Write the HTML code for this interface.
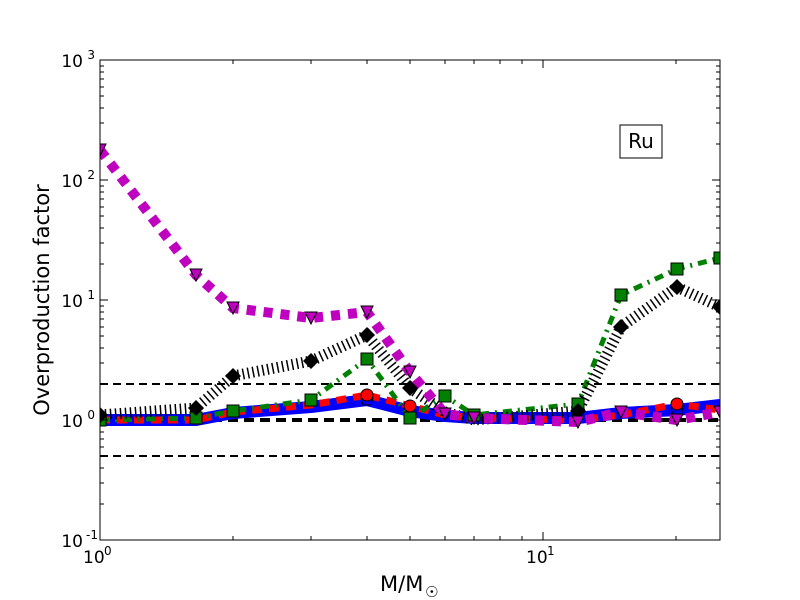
<!DOCTYPE html>
<html><head><meta charset="utf-8"><style>body{margin:0;background:#fff}svg{display:block}text{font-family:"DejaVu Sans","Liberation Sans",sans-serif}</style></head><body>
<svg width="800" height="600" viewBox="0 0 800 600" xmlns="http://www.w3.org/2000/svg">
<rect width="800" height="600" fill="#fff"/>
<defs><clipPath id="c"><rect x="100" y="60" width="620" height="480"/></clipPath></defs>
<g clip-path="url(#c)">
<g stroke="#000" stroke-width="2" stroke-dasharray="8 5" fill="none">
<line x1="100" y1="384" x2="720" y2="384"/><line x1="100" y1="456" x2="720" y2="456"/>
</g>
<line x1="100" y1="420" x2="720" y2="420" stroke="#000" stroke-width="4" stroke-dasharray="10 6"/>
<polyline fill="none" stroke="#0000ff" stroke-width="12" stroke-linejoin="round" points="100,420 196,420 233,413 311,407 367,400 410,411 445,416 474,418 578,418 621,413 677,410 720,405"/>
<polyline fill="none" stroke="#ff0000" stroke-width="7" stroke-dasharray="10 7" points="100,420 196,420 233,412 311,405 367,395 410,406 445,415 474,418 578,420 621,415 677,404 720,410"/>
<polyline fill="none" stroke="#008000" stroke-width="5" stroke-dasharray="9 6 2 6" points="100,420 196,418 233,411 311,400 367,359 410,418 445,396 474,415 578,404 621,295 677,269 720,258"/>
<polyline fill="none" stroke="#000" stroke-width="11" stroke-dasharray="1.5 3.5" points="100,415 196,408 233,376 311,361 367,335 410,388 445,412 474,420 578,411 621,327 677,287 720,307"/>
<polyline fill="none" stroke="#bf00bf" stroke-width="10" stroke-dasharray="9 8" points="100,150 196,275 233,308 311,318 367,312 410,372 445,414 474,418 578,422 621,412 677,420 720,412"/>
<g fill="#0000ff" stroke="#000" stroke-width="1">
<g transform="translate(100,420)"><polygon points="0,-6 6,-2 4,5 -4,5 -6,-2"/></g>
<g transform="translate(367,400)"><polygon points="0,-6 6,-2 4,5 -4,5 -6,-2"/></g>
<g transform="translate(677,410)"><polygon points="0,-6 6,-2 4,5 -4,5 -6,-2"/></g>
</g>
<g fill="#ff0000" stroke="#000" stroke-width="1">
<circle cx="367" cy="395" r="6"/><circle cx="677" cy="404" r="6"/><circle cx="410" cy="406" r="6"/>
</g>
<g fill="#008000" stroke="#000" stroke-width="1">
<rect x="94" y="414" width="12" height="12"/><rect x="190" y="412" width="12" height="12"/><rect x="227" y="405" width="12" height="12"/><rect x="305" y="394" width="12" height="12"/><rect x="361" y="353" width="12" height="12"/><rect x="404" y="412" width="12" height="12"/><rect x="439" y="390" width="12" height="12"/><rect x="468" y="409" width="12" height="12"/><rect x="572" y="398" width="12" height="12"/><rect x="615" y="289" width="12" height="12"/><rect x="671" y="263" width="12" height="12"/><rect x="714" y="252" width="12" height="12"/>
</g>
<g fill="#000">
<polygon points="100,407 108,415 100,423 92,415"/><polygon points="196,400 204,408 196,416 188,408"/><polygon points="233,368 241,376 233,384 225,376"/><polygon points="311,353 319,361 311,369 303,361"/><polygon points="367,327 375,335 367,343 359,335"/><polygon points="410,380 418,388 410,396 402,388"/><polygon points="578,403 586,411 578,419 570,411"/><polygon points="621,319 629,327 621,335 613,327"/><polygon points="677,279 685,287 677,295 669,287"/><polygon points="720,299 728,307 720,315 712,307"/>
</g>
<g fill="#bf00bf" stroke="#000" stroke-width="1">
<polygon points="94,144 106,144 100,156"/><polygon points="190,269 202,269 196,281"/><polygon points="227,302 239,302 233,314"/><polygon points="305,312 317,312 311,324"/><polygon points="361,306 373,306 367,318"/><polygon points="404,366 416,366 410,378"/><polygon points="439,408 451,408 445,420"/><polygon points="468,412 480,412 474,424"/><polygon points="572,416 584,416 578,428"/><polygon points="615,406 627,406 621,418"/><polygon points="671,414 683,414 677,426"/><polygon points="714,406 726,406 720,418"/>
</g>
</g>
<rect x="100" y="60" width="620" height="480" fill="none" stroke="#000" stroke-width="1"/>
<g stroke="#000" stroke-width="1">
<path d="M100,60h8M100,180h8M100,300h8M100,420h8M100,540h8M720,60h-8M720,180h-8M720,300h-8M720,420h-8M720,540h-8"/>
<path d="M100,504h4M100,483h4M100,468h4M100,456h4M100,447h4M100,439h4M100,432h4M100,426h4M100,384h4M100,363h4M100,348h4M100,336h4M100,327h4M100,319h4M100,312h4M100,306h4M100,264h4M100,243h4M100,228h4M100,216h4M100,207h4M100,199h4M100,192h4M100,186h4M100,144h4M100,123h4M100,108h4M100,96h4M100,87h4M100,79h4M100,72h4M100,66h4"/>
<path d="M720,504h-4M720,483h-4M720,468h-4M720,456h-4M720,447h-4M720,439h-4M720,432h-4M720,426h-4M720,384h-4M720,363h-4M720,348h-4M720,336h-4M720,327h-4M720,319h-4M720,312h-4M720,306h-4M720,264h-4M720,243h-4M720,228h-4M720,216h-4M720,207h-4M720,199h-4M720,192h-4M720,186h-4M720,144h-4M720,123h-4M720,108h-4M720,96h-4M720,87h-4M720,79h-4M720,72h-4M720,66h-4"/>
<path d="M100,540v-8M543,540v-8M100,60v8M543,60v8"/>
<path d="M233,540v-4M311,540v-4M367,540v-4M410,540v-4M445,540v-4M474,540v-4M500,540v-4M522,540v-4M676,540v-4M233,60v4M311,60v4M367,60v4M410,60v4M445,60v4M474,60v4M500,60v4M522,60v4M676,60v4"/>
</g>
<g font-size="17" text-anchor="end">
<text x="83" y="67">10</text><text x="95" y="59" font-size="12">3</text>
<text x="83" y="187">10</text><text x="95" y="179" font-size="12">2</text>
<text x="83" y="307">10</text><text x="95" y="299" font-size="12">1</text>
<text x="83" y="427">10</text><text x="95" y="419" font-size="12">0</text>
<text x="83" y="547">10</text><text x="98" y="539" font-size="12">-1</text>
</g>
<g font-size="17">
<text x="83" y="563">10</text><text x="104" y="555" font-size="12">0</text>
<text x="526" y="563">10</text><text x="547" y="555" font-size="12">1</text>
</g>
<text x="380" y="591" font-size="21">M/M</text><text x="425" y="597" font-size="15">☉</text>
<text transform="translate(49,300) rotate(-90)" font-size="21" text-anchor="middle">Overproduction factor</text>
<rect x="620" y="125" width="42" height="33" fill="#fff" stroke="#000" stroke-width="1"/>
<text x="641" y="148" font-size="20" text-anchor="middle">Ru</text>
</svg>
</body></html>
